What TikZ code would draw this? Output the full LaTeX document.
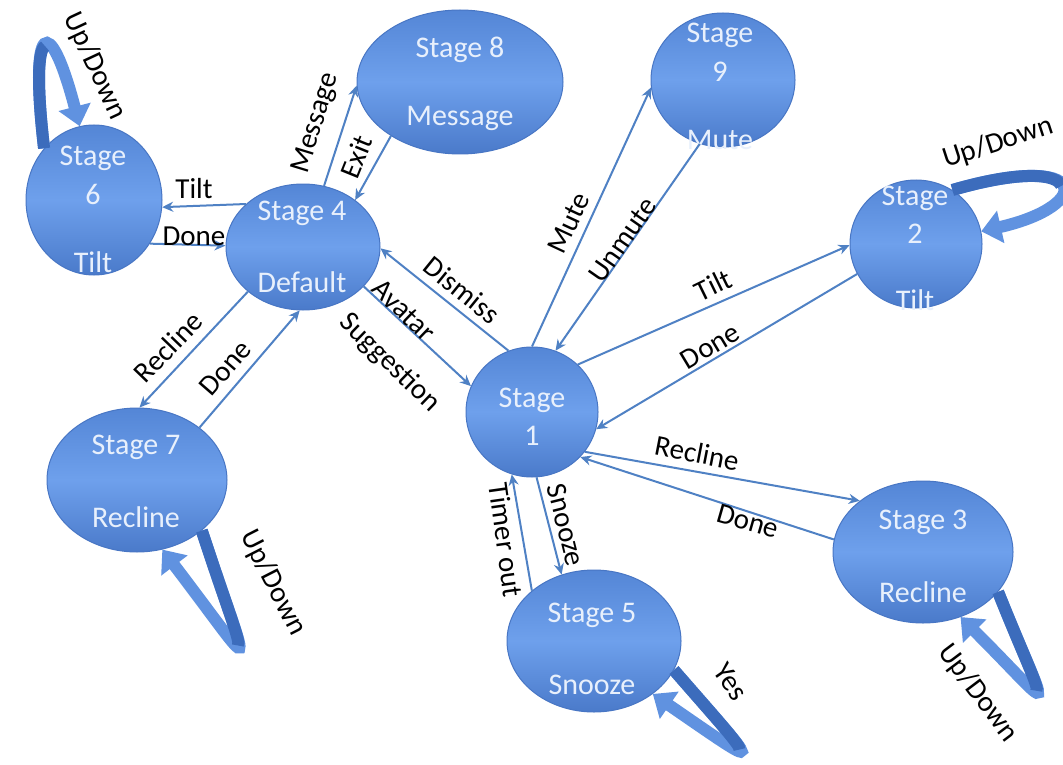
\documentclass[tikz,border=0pt]{standalone}
\usepackage{fontspec}
\setmainfont{Carlito}
\usetikzlibrary{shapes.geometric,arrows.meta,calc}
\definecolor{edgeblue}{RGB}{79,129,196}
\definecolor{nodetop}{RGB}{84,134,214}
\definecolor{nodemid}{RGB}{110,160,236}
\definecolor{nodebot}{RGB}{74,122,202}
\definecolor{nodeline}{RGB}{72,118,196}
\definecolor{nodetext}{RGB}{232,240,252}
\definecolor{looplight}{RGB}{96,146,224}
\definecolor{loopdark}{RGB}{60,108,188}
\tikzset{
  stagebox/.style={ellipse, draw=nodeline, line width=1pt, top color=nodetop, bottom color=nodebot, middle color=nodemid, inner sep=0pt},
  stagetext/.style={text=nodetext, font=\fontsize{30}{32}\selectfont, inner sep=0pt},
  edgelabel/.style={text=black, font=\fontsize{29}{31}\selectfont, inner sep=0pt},
  link/.style={draw=edgeblue, line width=2pt, -{Stealth[length=11pt,width=10pt]}},
  selfloop/.style={draw=looplight, line width=12pt, -{Triangle[length=20pt,width=32pt]}},
  selfloophalf/.style={draw=loopdark, line width=12pt},
}
% #1 node, #2 start angle, #3 first control offset, #4 end angle, #5 second control offset
\newcommand{\ribbonloop}[5]{%
  \coordinate (p0) at (#1.#2);
  \coordinate (p3) at (#1.#4);
  \coordinate (p1) at ($(p0)+(#3)$);
  \coordinate (p2) at ($(p3)+(#5)$);
  \coordinate (q1) at ($0.5*(p0)+0.5*(p1)$);
  \coordinate (q2) at ($0.25*(p0)+0.5*(p1)+0.25*(p2)$);
  \coordinate (apex) at ($0.125*(p0)+0.375*(p1)+0.375*(p2)+0.125*(p3)$);
  \draw[selfloop] (#1.#2) .. controls (p1) and (p2) .. (#1.#4);
  \draw[selfloophalf] (#1.#2) .. controls (q1) and (q2) .. (apex);
}
\begin{document}
\begin{tikzpicture}[x=1pt,y=-1pt]
\useasboundingbox[fill=white] (0,0) rectangle (1063,765);

% nodes
\node[stagebox, minimum width=132pt, minimum height=130pt] (s1) at (532,412) {};
\node[stagebox, minimum width=132pt, minimum height=128pt] (s2) at (916,244) {};
\node[stagebox, minimum width=180pt, minimum height=142pt] (s3) at (923,552) {};
\node[stagebox, minimum width=154pt, minimum height=126pt] (s4) at (303,247) {};
\node[stagebox, minimum width=174pt, minimum height=142pt] (s5) at (594,641) {};
\node[stagebox, minimum width=136pt, minimum height=150pt] (s6) at (94,200) {};
\node[stagebox, minimum width=180pt, minimum height=144pt] (s7) at (137,480) {};
\node[stagebox, minimum width=206pt, minimum height=144pt] (s8) at (460,82) {};
\node[stagebox, minimum width=144pt, minimum height=134pt] (s9) at (723,80) {};

% node texts
\node[stagetext] (t1a) at (532,400) {Stage};
\node[stagetext] (t1b) at (532,436) {1};
\node[stagetext] (t2a) at (915,198) {Stage};
\node[stagetext] (t2b) at (915,234) {2};
\node[stagetext] (t2c) at (915,300) {Tilt};
\node[stagetext] (t3a) at (923,522) {Stage 3};
\node[stagetext] (t3b) at (923,592) {Recline};
\node[stagetext] (t4a) at (302,213) {Stage 4};
\node[stagetext] (t4b) at (302,282) {Default};
\node[stagetext] (t5a) at (592,615) {Stage 5};
\node[stagetext] (t5b) at (592,685) {Snooze};
\node[stagetext] (t6a) at (93,158) {Stage};
\node[stagetext] (t6b) at (93,194) {6};
\node[stagetext] (t6c) at (93,262) {Tilt};
\node[stagetext] (t7a) at (136,447) {Stage 7};
\node[stagetext] (t7b) at (136,517) {Recline};
\node[stagetext] (t8a) at (460,50) {Stage 8};
\node[stagetext] (t8b) at (460,118) {Message};
\node[stagetext] (t9a) at (720,35) {Stage};
\node[stagetext] (t9b) at (720,72) {9};
\node[stagetext] (t9c) at (720,140) {Mute};

% self loops
\ribbonloop{s6}{134}{-15,-128}{101}{-30,-115}
\ribbonloop{s2}{56}{138,-40}{11}{114,-26}
\ribbonloop{s7}{-38}{49,150}{-70}{100,131}
\ribbonloop{s5}{-20}{87,100}{-42}{116,80}
\ribbonloop{s3}{-28}{52,130}{-60}{100,100}

% connectors
\draw[link] (s4.143) -- (s6.-6);
\draw[link] (s6.-38) -- (s4.179);
\draw[link] (s4.71) -- (s8.182);
\draw[link] (s8.218) -- (s4.42);
\draw[link] (s1.111) -- (s4.-1);
\draw[link] (s4.-33) -- (s1.157);
\draw[link] (s1.90) -- (s9.186);
\draw[link] (s9.250) -- (s1.69);
\draw[link] (s1.46) -- (s2.181);
\draw[link] (s2.207) -- (s1.-15);
\draw[link] (s1.-37) -- (s3.141);
\draw[link] (s3.172) -- (s1.-43);
\draw[link] (s1.-86) -- (s5.116);
\draw[link] (s5.141) -- (s1.252);
\draw[link] (s7.40) -- (s4.267);
\draw[link] (s4.219) -- (s7.88);

% connector labels
\node[edgelabel] (l1) at (194,189) {Tilt};
\node[edgelabel] (l2) at (194,236) {Done};
\node[edgelabel, rotate=73] (l3) at (316,123) {Message};
\node[edgelabel, rotate=68] (l4) at (356,157) {Exit};
\node[edgelabel, rotate=-39] (l5) at (462,290) {Dismiss};
\node[edgelabel, rotate=-44, align=left, font=\fontsize{29}{46}\selectfont] (l6) at (405,347) {Avatar\\Suggestion};
\node[edgelabel, rotate=65] (l7) at (569,223) {Mute};
\node[edgelabel, rotate=55] (l8) at (623,240) {Unmute};
\node[edgelabel, rotate=26] (l9) at (713,285) {Tilt};
\node[edgelabel, rotate=31] (l10) at (710,346) {Done};
\node[edgelabel, rotate=-11] (l11) at (697,453) {Recline};
\node[edgelabel, rotate=-16] (l12) at (748,521) {Done};
\node[edgelabel, rotate=-76] (l13) at (566,525) {Snooze};
\node[edgelabel, rotate=-82] (l14) at (506,540) {Timer out};
\node[edgelabel, rotate=49] (l15) at (225,368) {Done};
\node[edgelabel, rotate=46] (l16) at (168,347) {Recline};
\node[edgelabel, rotate=-65] (l17) at (95,66) {Up/Down};
\node[edgelabel, rotate=18] (l18) at (998,143) {Up/Down};
\node[edgelabel, rotate=-63] (l19) at (273,583) {Up/Down};
\node[edgelabel, rotate=-55] (l20) at (731,682) {Yes};
\node[edgelabel, rotate=-53] (l21) at (978,693) {Up/Down};
\end{tikzpicture}
\end{document}
